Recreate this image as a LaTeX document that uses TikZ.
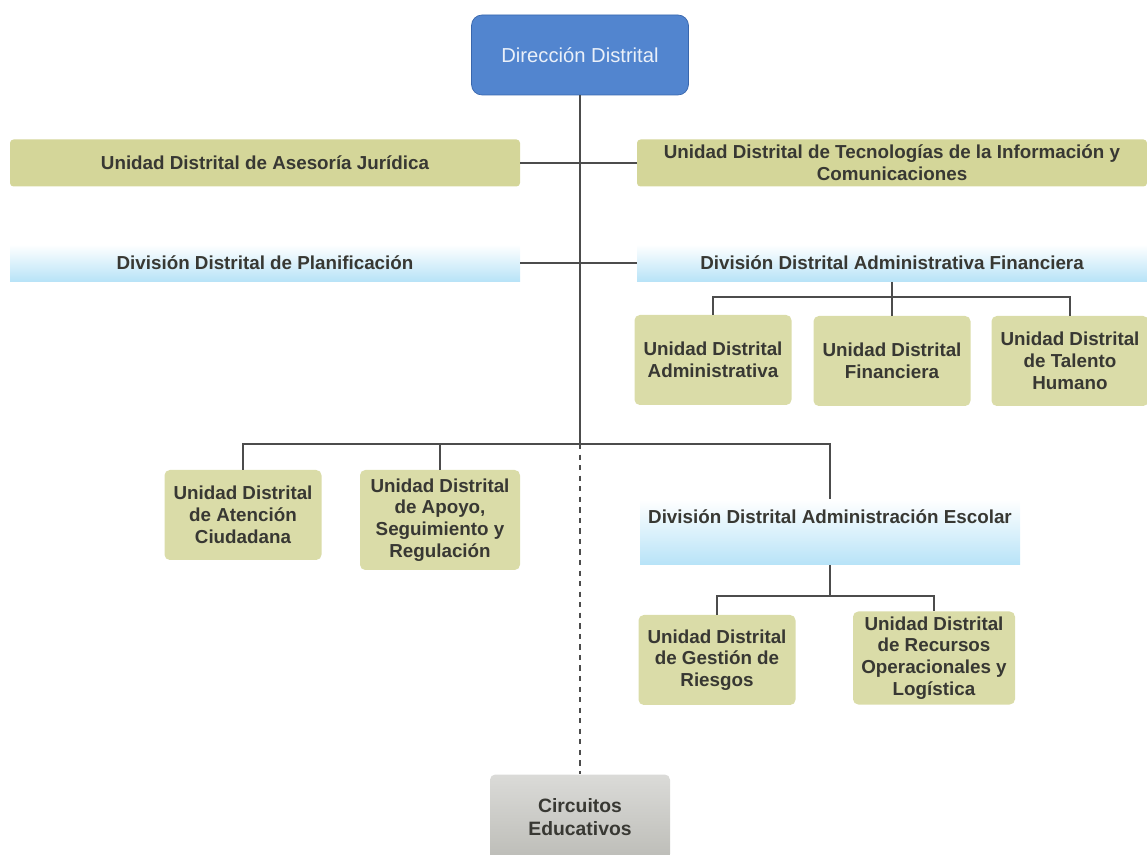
\documentclass[tikz,border=0pt]{standalone}
\usepackage{fontspec}
\setmainfont{Liberation Sans}
\usepackage{tikz}
\definecolor{dirblue}{rgb}{0.32,0.52,0.81}
\definecolor{dirborder}{rgb}{0.22,0.40,0.68}
\definecolor{unitolive}{rgb}{0.83,0.84,0.60}
\definecolor{divblue}{rgb}{0.72,0.89,0.97}
\definecolor{circgray}{rgb}{0.74,0.74,0.72}
\definecolor{textgray}{rgb}{0.22,0.22,0.20}
\definecolor{linegray}{rgb}{0.30,0.30,0.30}
\tikzstyle{orgtext}=[font=\fontsize{10.7}{12.4}\selectfont\bfseries, text=textgray, align=center]
\tikzstyle{dirbox}=[rectangle, rounded corners=6pt, draw=dirborder, fill=dirblue, text=white!88!dirblue, font=\fontsize{11.5}{13}\selectfont, minimum width=4.34cm, minimum height=1.6cm]
\tikzstyle{unitbar}=[orgtext, rectangle, rounded corners=2pt, fill=unitolive, minimum width=10.2cm, minimum height=0.94cm, inner sep=1pt]
\tikzstyle{divbar}=[orgtext, rectangle, top color=white, bottom color=divblue, minimum width=10.2cm, minimum height=0.74cm]
\tikzstyle{unitbox}=[orgtext, rectangle, rounded corners=3pt, fill=unitolive!85!white, minimum width=3.14cm, minimum height=1.8cm, inner sep=2pt]
\tikzstyle{circbox}=[orgtext, rectangle, rounded corners=3pt, top color=circgray!55!white, bottom color=circgray, minimum width=3.6cm, minimum height=1.7cm, font=\fontsize{11}{13}\selectfont\bfseries]
\tikzstyle{orgline}=[draw=linegray, line width=0.8pt]
\newcommand{\unitbar}[3]{
	\node[unitbar] (#1) at (#2) {#3};}
\newcommand{\divbar}[3]{
	\node[divbar] (#1) at (#2) {#3};}
\newcommand{\unitbox}[3]{
	\node[unitbox] (#1) at (#2) {#3};}

\begin{document}
\begin{tikzpicture}
\useasboundingbox (0,0) rectangle (22.94cm,17.08cm);
\node[dirbox] (dir) at (11.6cm,15.98cm) {Dirección Distrital};
\unitbar{jur}{5.3cm,13.82cm}{Unidad Distrital de Asesoría Jurídica}
\unitbar{tic}{17.84cm,13.82cm}{Unidad Distrital de Tecnologías de la Información y\\Comunicaciones}
\divbar{plan}{5.3cm,11.82cm}{División Distrital de Planificación}
\divbar{fin}{17.84cm,11.82cm}{División Distrital Administrativa Financiera}
\unitbox{adm}{14.26cm,9.88cm}{Unidad Distrital\\Administrativa}
\unitbox{fnc}{17.84cm,9.86cm}{Unidad Distrital\\Financiera}
\unitbox{tal}{21.4cm,9.86cm}{Unidad Distrital\\de Talento\\Humano}
\unitbox{aten}{4.86cm,6.78cm}{Unidad Distrital\\de Atención\\Ciudadana}
\node[unitbox, minimum width=3.2cm, minimum height=2cm] (apoyo) at (8.8cm,6.68cm) {Unidad Distrital\\de Apoyo,\\Seguimiento y\\Regulación};
\node[divbar, minimum width=7.6cm, minimum height=1.3cm, text depth=0.6cm] (esc) at (16.6cm,6.44cm) {División Distrital Administración Escolar};
\unitbox{ges}{14.34cm,3.88cm}{Unidad Distrital\\de Gestión de\\Riesgos}
\node[unitbox, minimum width=3.24cm, minimum height=1.86cm] (rec) at (18.68cm,3.92cm) {Unidad Distrital\\de Recursos\\Operacionales y\\Logística};
\node[circbox] (circ) at (11.6cm,0.74cm) {Circuitos\\Educativos};
\coordinate (j) at (11.6cm,8.2cm);
\coordinate (finj) at (17.84cm,11.14cm);
\coordinate (escj) at (16.6cm,5.16cm);
\path[orgline] (dir) edge (j);
\path[orgline, dashed] (j) edge (circ);
\path[orgline] (jur) edge (tic);
\path[orgline] (plan) edge (fin);
\path[orgline] (fin) edge (finj);
\path[orgline] (finj) edge (fnc);
\draw[orgline] (finj) -| (adm);
\draw[orgline] (finj) -| (tal);
\draw[orgline] (j) -| (aten);
\draw[orgline] (j) -| (apoyo);
\draw[orgline] (j) -| (esc);
\path[orgline] (esc) edge (escj);
\draw[orgline] (escj) -| (ges);
\draw[orgline] (escj) -| (rec);
\end{tikzpicture}
\end{document}
